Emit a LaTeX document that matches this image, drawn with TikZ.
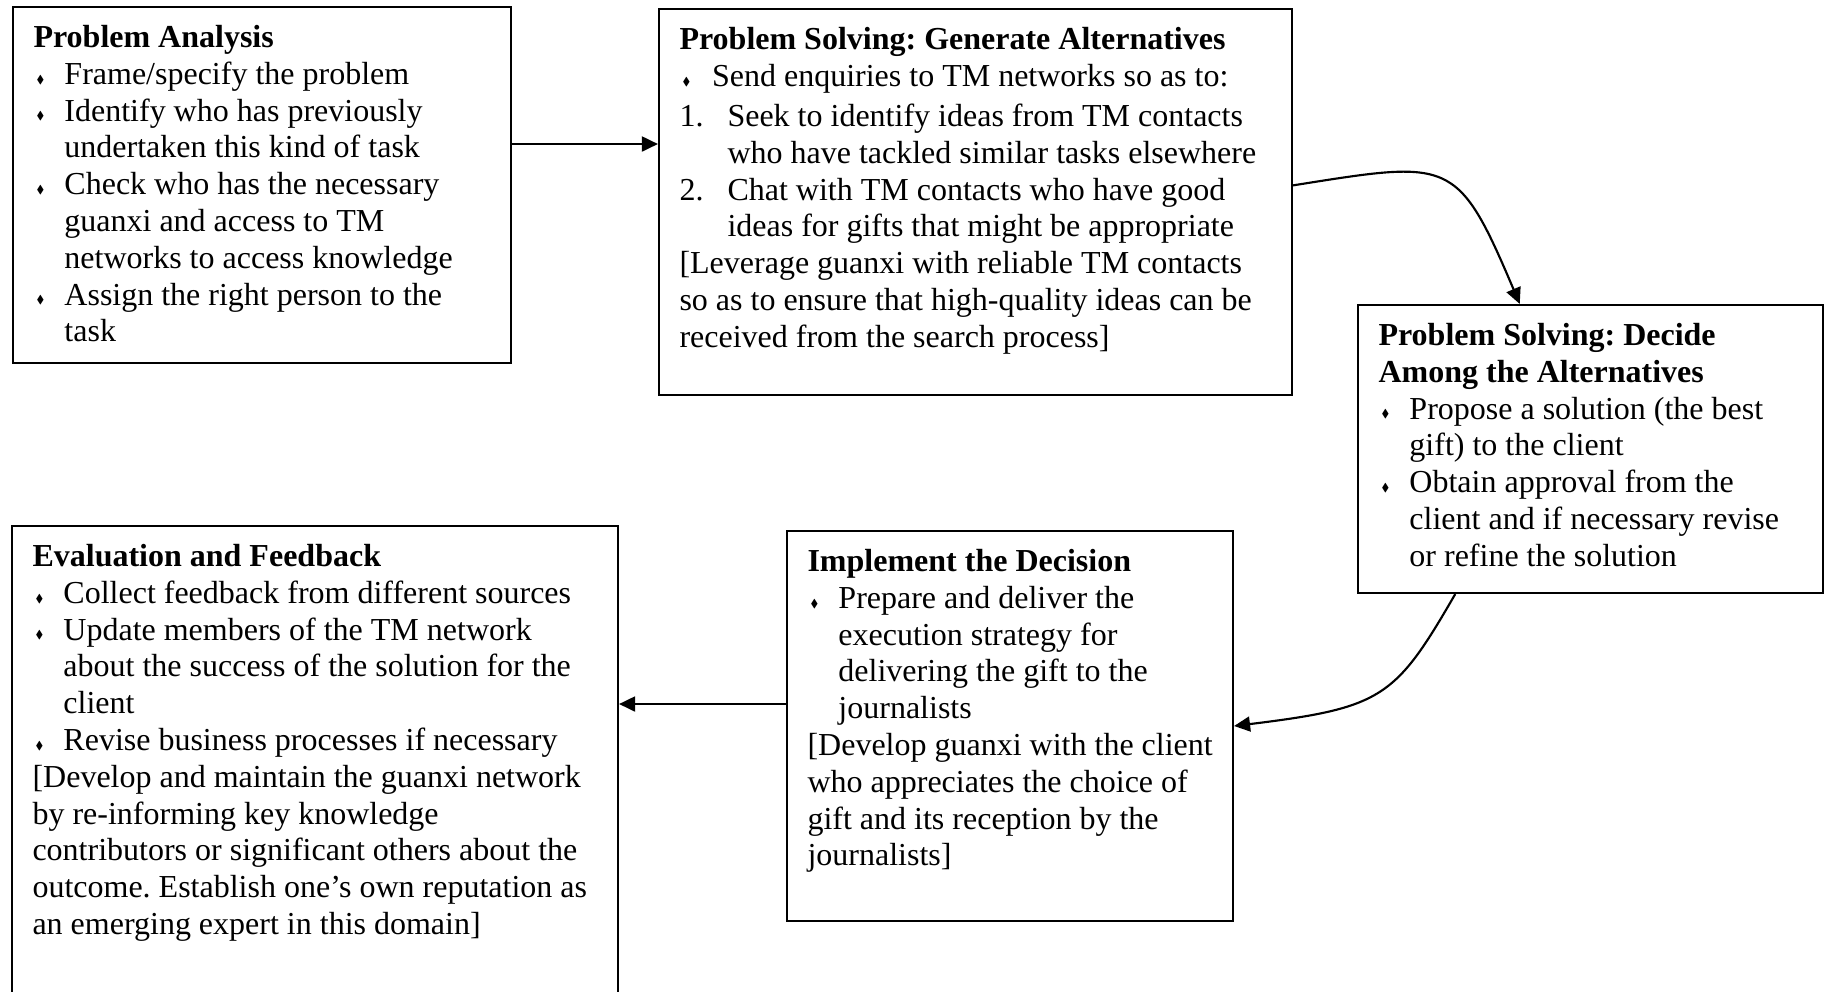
\documentclass[tikz,border=0pt]{standalone}
\usepackage{amssymb}
\usepackage{fontspec}
\setmainfont{Liberation Serif}
\usetikzlibrary{arrows.meta,fit,positioning}

\newcommand{\bul}[1][11.6pt]{\makebox[#1][l]{\hspace{1.2pt}\raisebox{0.4pt}{\scalebox{0.36}{$\blacklozenge$}}}}
\newcommand{\bulind}[1][11.6pt]{\hspace*{#1}}
\newcommand{\itemno}[1]{\makebox[18pt][l]{#1}}

\tikzset{
  stepbox/.style={draw, line width=0.8pt, inner sep=0pt},
  boxtext/.style={anchor=north west, inner sep=0pt, align=left,
    font=\fontsize{12pt}{13.8pt}\selectfont\frenchspacing, xshift=7.9pt, yshift=-5.7pt},
  flow/.style={line width=0.8pt, -{Triangle[length=6pt,width=5.6pt]}}
}

\begin{document}
\begin{tikzpicture}[x=0.375pt, y=0.375pt]
\useasboundingbox (0,0) rectangle (1825,-991);

% the five boxes
\node[stepbox, fit={(13,-7) (511,-363)}] (pa) {};
\node[stepbox, fit={(659,-9) (1292,-395)}] (gen) {};
\node[stepbox, fit={(1358,-305) (1823,-593)}] (dec) {};
\node[stepbox, fit={(787,-531) (1233,-921)}] (impl) {};
\node[stepbox, fit={(12,-526) (618,-1000)}] (eval) {};

% their texts
\node[boxtext] (pa-txt) at (pa.north west) {\textbf{\strut Problem Analysis}\\
\bul Frame/specify the problem\\
\bul Identify who has previously\\
\bulind undertaken this kind of task\\
\bul Check who has the necessary\\
\bulind guanxi and access to TM\\
\bulind networks to access knowledge\\
\bul Assign the right person to the\\
\bulind task};

\node[boxtext] (gen-txt) at (gen.north west) {\textbf{\strut Problem Solving: Generate Alternatives}\\
\bul[12.2pt]Send enquiries to TM networks so as to:\\[1.3pt]
\itemno{1.}Seek to identify ideas from TM contacts\\
\bulind[18pt]who have tackled similar tasks elsewhere\\
\itemno{2.}Chat with TM contacts who have good\\
\bulind[18pt]ideas for gifts that might be appropriate\\
{[}Leverage guanxi with reliable TM contacts\\
so as to ensure that high-quality ideas can be\\
received from the search process]};

\node[boxtext] (dec-txt) at (dec.north west) {\textbf{\strut Problem Solving: Decide}\\
\textbf{Among the Alternatives}\\
\bul Propose a solution (the best\\
\bulind gift) to the client\\
\bul Obtain approval from the\\
\bulind client and if necessary revise\\
\bulind or refine the solution};

\node[boxtext] (impl-txt) at (impl.north west) {\textbf{\strut Implement the Decision}\\
\bul Prepare and deliver the\\
\bulind execution strategy for\\
\bulind delivering the gift to the\\
\bulind journalists\\
{[}Develop guanxi with the client\\
who appreciates the choice of\\
gift and its reception by the\\
journalists]};

\node[boxtext] (eval-txt) at (eval.north west) {\textbf{\strut Evaluation and Feedback}\\
\bul Collect feedback from different sources\\
\bul Update members of the TM network\\
\bulind about the success of the solution for the\\
\bulind client\\
\bul Revise business processes if necessary\\
{[}Develop and maintain the guanxi network\\
by re-informing key knowledge\\
contributors or significant others about the\\
outcome. Establish one’s own reputation as\\
an emerging expert in this domain]};

% connectors
\draw[flow] (pa.east |- 0,-144) -- (gen.west |- 0,-144);
\draw[flow] (gen.3.6) to[out=9,in=113,out distance=60pt,in distance=60pt] (dec.116.7);
\draw[flow] (dec.227.4) to[out=240,in=7,out distance=45pt,in distance=56pt] (impl.east);
\draw[flow] (impl.west |- 0,-704) -- (eval.east |- 0,-704);
\end{tikzpicture}
\end{document}
